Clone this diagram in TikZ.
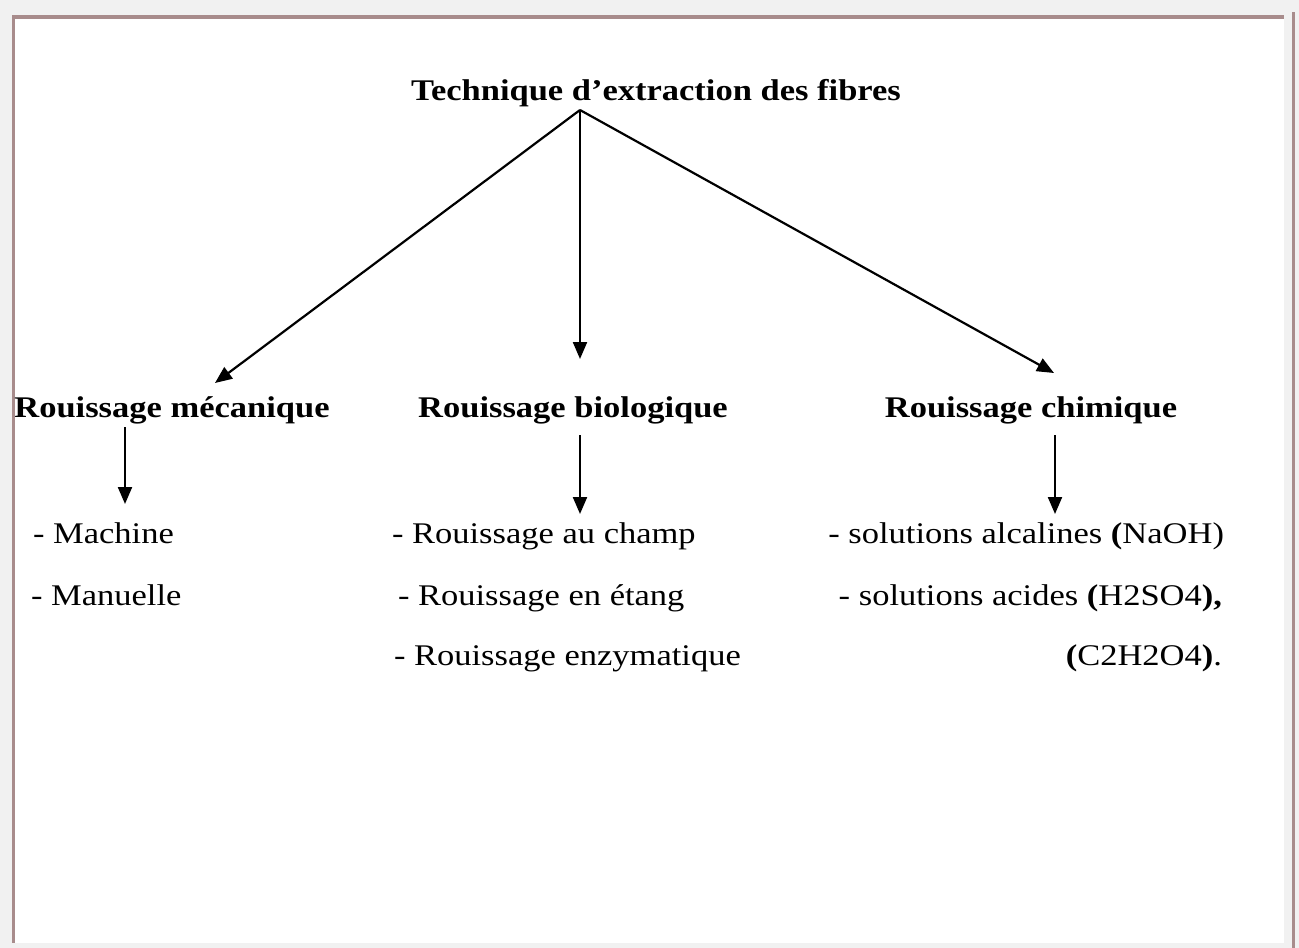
\documentclass[tikz,border=0pt]{standalone}
\usepackage{fontspec}
\setmainfont{Liberation Serif}
\usetikzlibrary{arrows.meta}
\newcommand{\sxt}[1]{\scalebox{1.15}[1]{#1}}
\definecolor{framebrown}{RGB}{168,140,140}
\definecolor{bggray}{RGB}{241,241,241}
\begin{document}
\begin{tikzpicture}[x=1pt,y=-1pt,
  lbl/.style={inner sep=0pt, outer sep=0pt, font=\fontsize{30}{36}\selectfont},
  head/.style={lbl, font=\fontsize{30}{36}\selectfont\bfseries},
  arr/.style={line width=2.2pt, -{Triangle[length=17pt,width=14pt]}},
]
% background and frame
\useasboundingbox (0,0) rectangle (1299,948);
\fill[bggray] (0,0) rectangle (1299,948);
\fill[white] (14,18) rectangle (1284,943);
\fill[framebrown] (12,15) rectangle (1284,18.5);
\fill[framebrown] (12,15) rectangle (14.5,943);
\fill[framebrown] (1292,12) rectangle (1294.5,948);

% title
\node[head, anchor=base] (title) at (656,100) {\sxt{Technique d’extraction des fibres}};
\coordinate (apex) at (580,110);

% headings
\node[head, anchor=base] (meca) at (172,417) {\sxt{Rouissage mécanique}};
\node[head, anchor=base] (bio) at (573,417) {\sxt{Rouissage biologique}};
\node[head, anchor=base] (chim) at (1031,417) {\sxt{Rouissage chimique}};

\coordinate (tmeca) at (215,383);
\coordinate (tbio) at (580,359);
\coordinate (tchim) at (1054,373);

\draw[arr] (apex) -- (tmeca);
\draw[arr] (apex) -- (tbio);
\draw[arr] (apex) -- (tchim);

% items
\node[lbl, anchor=base west] (m1) at (33,543) {\sxt{- Machine}};
\node[lbl, anchor=base west] (m2) at (31,605) {\sxt{- Manuelle}};

\node[lbl, anchor=base west] (b1) at (392,543) {\sxt{- Rouissage au champ}};
\node[lbl, anchor=base west] (b2) at (398,605) {\sxt{- Rouissage en étang}};
\node[lbl, anchor=base west] (b3) at (394,665) {\sxt{- Rouissage enzymatique}};

\node[lbl, anchor=base east] (c1) at (1224,543) {\sxt{- solutions alcalines \textbf{(}NaOH)}};
\node[lbl, anchor=base east] (c2) at (1222,605) {\sxt{- solutions acides \textbf{(}H2SO4\textbf{),}}};
\node[lbl, anchor=base east] (c3) at (1222,665) {\sxt{\textbf{(}C2H2O4\textbf{)}.}};

% sub arrows
\coordinate (smeca) at (125,427);
\coordinate (emeca) at (125,504);
\coordinate (sbio) at (580,435);
\coordinate (ebio) at (580,514);
\coordinate (schim) at (1055,435);
\coordinate (echim) at (1055,514);
\draw[arr] (smeca) -- (emeca);
\draw[arr] (sbio) -- (ebio);
\draw[arr] (schim) -- (echim);
\end{tikzpicture}
\end{document}
